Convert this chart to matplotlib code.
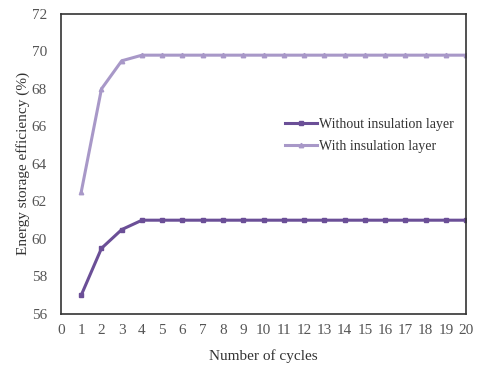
import matplotlib
matplotlib.use("Agg")
import matplotlib.pyplot as plt

cycles = list(range(1, 21))
without_layer = [57.0, 59.5, 60.5, 61.0] + [61.0] * 16
with_layer = [62.5, 68.0, 69.5, 69.8] + [69.8] * 16

plt.rcParams['font.family'] = ['Liberation Serif', 'DejaVu Serif']

fig = plt.figure(figsize=(4.8, 3.76), dpi=100)
ax = fig.add_axes([0.127, 0.165, 0.844, 0.798])

ax.plot(cycles, without_layer, color='#6b4f97', lw=2.2, marker='s', markersize=3.2,
        label='Without insulation layer')
ax.plot(cycles, with_layer, color='#a898c8', lw=2.2, marker='^', markersize=3.2,
        label='With insulation layer')

ax.set_xlim(0, 20)
ax.set_ylim(56, 72)
ax.set_xticks(range(0, 21))
ax.set_yticks(range(56, 73, 2))
ax.tick_params(length=0, labelsize=11, labelcolor='#555555')
ax.tick_params(axis='y', pad=10)
ax.tick_params(axis='x', pad=7)
for s in ax.spines.values():
    s.set_color('#333333')
    s.set_linewidth(1.2)

ax.set_xlabel('Number of cycles', fontsize=11, color='#333333', labelpad=9)
ax.set_ylabel('Energy storage efficiency (%)', fontsize=11, color='#333333', labelpad=1)

ax.legend(loc='center left', bbox_to_anchor=(0.523, 0.595), frameon=False,
          fontsize=10, handlelength=2.3, handletextpad=0.1, labelspacing=0.6,
          labelcolor='#333333')

fig.savefig('out.png', dpi=100)
